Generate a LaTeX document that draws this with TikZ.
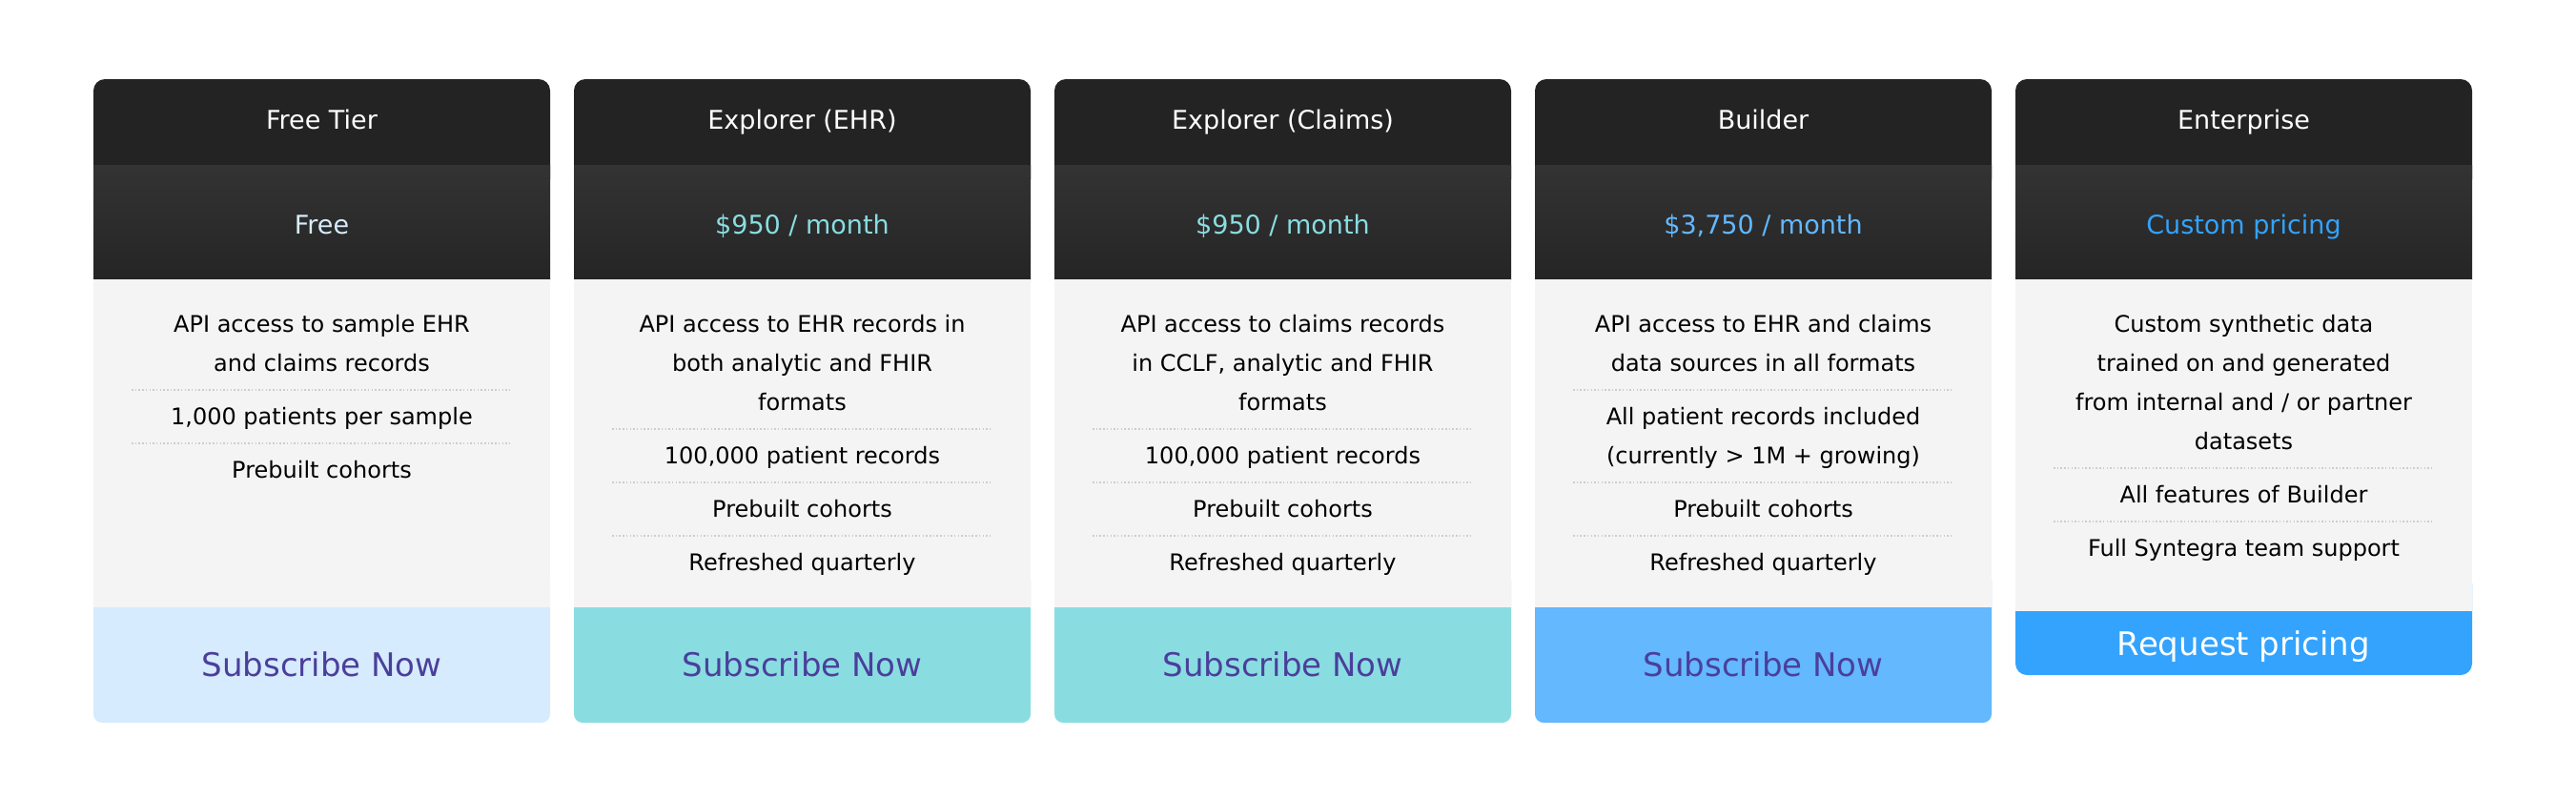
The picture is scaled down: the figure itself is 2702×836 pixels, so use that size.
\documentclass[tikz,border=0pt]{standalone}
\usepackage{fontspec}
\setmainfont{DejaVu Sans}
\usetikzlibrary{positioning}
\definecolor{hdr}{HTML}{232323}
\definecolor{bandtop}{HTML}{333333}
\definecolor{bandbot}{HTML}{252525}
\definecolor{featbg}{HTML}{F4F4F4}
\definecolor{free}{HTML}{D6EBFD}
\definecolor{teal}{HTML}{89DDE1}
\definecolor{sky}{HTML}{63B8FE}
\definecolor{azure}{HTML}{33A3FD}
\definecolor{subtxt}{HTML}{4B3F9B}
\definecolor{sepgrey}{HTML}{CDCDCD}

\begin{document}
\begin{tikzpicture}[x=1pt,y=-1pt,
    title/.style={anchor=base,text=white,font=\fontsize{27}{32}\selectfont},
    price/.style={anchor=base,font=\fontsize{27}{32}\selectfont},
    feat/.style={anchor=base,align=center,inner sep=0pt,font=\fontsize{24}{41}\selectfont},
    sep/.style={draw=sepgrey,line width=1.5pt,dash pattern=on 1.5pt off 2.2pt},
    btn/.style={anchor=base,font=\fontsize{34}{40}\selectfont}]
\useasboundingbox (0,0) rectangle (2702,836);

% card backgrounds
\fill[free,rounded corners=9] (98,600) rectangle (577,758);
\fill[teal,rounded corners=9] (602,600) rectangle (1081,758);
\fill[teal,rounded corners=9] (1106,600) rectangle (1585,758);
\fill[sky,rounded corners=9] (1610,600) rectangle (2089,758);
\fill[azure,rounded corners=12] (2114,600) rectangle (2593,708);
\fill[hdr,rounded corners=12] (98,83) rectangle (577,200);
\fill[hdr,rounded corners=12] (602,83) rectangle (1081,200);
\fill[hdr,rounded corners=12] (1106,83) rectangle (1585,200);
\fill[hdr,rounded corners=12] (1610,83) rectangle (2089,200);
\fill[hdr,rounded corners=12] (2114,83) rectangle (2593,200);
\shade[top color=bandtop,bottom color=bandbot] (98,173) rectangle (577,293);
\shade[top color=bandtop,bottom color=bandbot] (602,173) rectangle (1081,293);
\shade[top color=bandtop,bottom color=bandbot] (1106,173) rectangle (1585,293);
\shade[top color=bandtop,bottom color=bandbot] (1610,173) rectangle (2089,293);
\shade[top color=bandtop,bottom color=bandbot] (2114,173) rectangle (2593,293);
\fill[featbg] (98,293) rectangle (577,637);
\fill[featbg] (602,293) rectangle (1081,637);
\fill[featbg] (1106,293) rectangle (1585,637);
\fill[featbg] (1610,293) rectangle (2089,637);
\fill[featbg] (2114,293) rectangle (2593,641);

% free tier
\node[title] (t1) at (337.5,135) {Free Tier};
\node[price,text=free] (p1) at (337.5,245) {Free};
\node[feat] (f11) at (337.5,389) {API access to sample EHR\\and claims records};
\draw[sep] (138,409) -- (537,409);
\node[feat] (f12) at (337.5,445) {1,000 patients per sample};
\draw[sep] (138,465) -- (537,465);
\node[feat] (f13) at (337.5,501) {Prebuilt cohorts};
\node[btn,text=subtxt] (b1) at (337.5,709) {Subscribe Now};

% explorer ehr
\node[title] (t2) at (841.5,135) {Explorer (EHR)};
\node[price,text=teal] (p2) at (841.5,245) {\$950 / month};
\node[feat] (f21) at (841.5,430) {API access to EHR records in\\both analytic and FHIR\\formats};
\draw[sep] (642,450) -- (1041,450);
\node[feat] (f22) at (841.5,486) {100,000 patient records};
\draw[sep] (642,506) -- (1041,506);
\node[feat] (f23) at (841.5,542) {Prebuilt cohorts};
\draw[sep] (642,562) -- (1041,562);
\node[feat] (f24) at (841.5,598) {Refreshed quarterly};
\node[btn,text=subtxt] (b2) at (841.5,709) {Subscribe Now};

% explorer claims
\node[title] (t3) at (1345.5,135) {Explorer (Claims)};
\node[price,text=teal] (p3) at (1345.5,245) {\$950 / month};
\node[feat] (f31) at (1345.5,430) {API access to claims records\\in CCLF, analytic and FHIR\\formats};
\draw[sep] (1146,450) -- (1545,450);
\node[feat] (f32) at (1345.5,486) {100,000 patient records};
\draw[sep] (1146,506) -- (1545,506);
\node[feat] (f33) at (1345.5,542) {Prebuilt cohorts};
\draw[sep] (1146,562) -- (1545,562);
\node[feat] (f34) at (1345.5,598) {Refreshed quarterly};
\node[btn,text=subtxt] (b3) at (1345.5,709) {Subscribe Now};

% builder
\node[title] (t4) at (1849.5,135) {Builder};
\node[price,text=sky] (p4) at (1849.5,245) {\$3,750 / month};
\node[feat] (f41) at (1849.5,389) {API access to EHR and claims\\data sources in all formats};
\draw[sep] (1650,409) -- (2049,409);
\node[feat] (f42) at (1849.5,486) {All patient records included\\(currently > 1M + growing)};
\draw[sep] (1650,506) -- (2049,506);
\node[feat] (f43) at (1849.5,542) {Prebuilt cohorts};
\draw[sep] (1650,562) -- (2049,562);
\node[feat] (f44) at (1849.5,598) {Refreshed quarterly};
\node[btn,text=subtxt] (b4) at (1849.5,709) {Subscribe Now};

% enterprise
\node[title] (t5) at (2353.5,135) {Enterprise};
\node[price,text=azure] (p5) at (2353.5,245) {Custom pricing};
\node[feat] (f51) at (2353.5,471) {Custom synthetic data\\trained on and generated\\from internal and / or partner\\datasets};
\draw[sep] (2154,491) -- (2553,491);
\node[feat] (f52) at (2353.5,527) {All features of Builder};
\draw[sep] (2154,547) -- (2553,547);
\node[feat] (f53) at (2353.5,583) {Full Syntegra team support};
\node[btn,text=white] (b5) at (2353.5,687) {Request pricing};
\end{tikzpicture}
\end{document}
